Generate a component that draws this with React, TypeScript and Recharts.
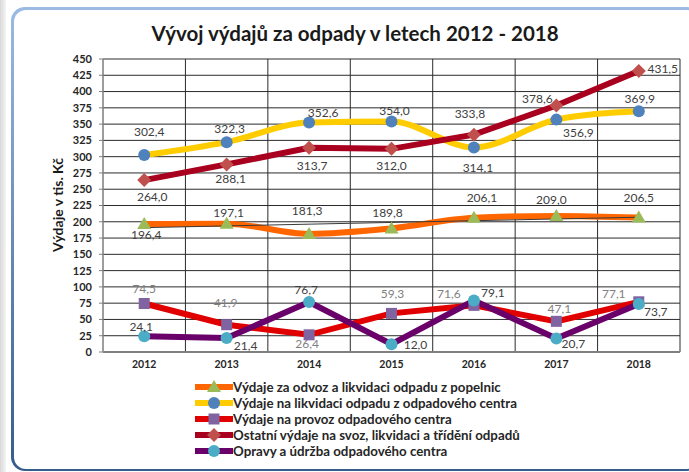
import type { FC, ReactElement } from 'react'
import { CartesianGrid, LabelList, Line, LineChart, XAxis, YAxis } from 'recharts'

const YEARS = [2012, 2013, 2014, 2015, 2016, 2017, 2018]
const YEAR_EDGES = [2011.5, 2012.5, 2013.5, 2014.5, 2015.5, 2016.5, 2017.5, 2018.5]
const Y_TICKS = [0, 25, 50, 75, 100, 125, 150, 175, 200, 225, 250, 275, 300, 325, 350, 375, 400, 425, 450]

const popelnice = [196.4, 197.1, 181.3, 189.8, 206.1, 209.0, 206.5]
const likvidaceCentrum = [302.4, 322.3, 352.6, 354.0, 314.1, 356.9, 369.9]
const provozCentra = [74.5, 41.9, 26.4, 59.3, 71.6, 47.1, 77.1]
const ostatni = [264.0, 288.1, 313.7, 312.0, 333.8, 378.6, 431.5]
const opravy = [24.1, 21.4, 76.7, 12.0, 79.1, 20.7, 73.7]
// thin trend line across the orange series, read at both ends
const trendPopelnice = [191, null, null, null, null, null, 207]

// label offsets (dx, dy) from each point
const popelniceLabels = [[2, 10], [2, -11], [-2, -23], [-4, -16], [8, -20], [-5, -16], [0, -20]]
const likvidaceLabels = [[5, -24], [3, -14], [14, -10], [3, -11], [4, 20], [22, 13], [1, -13]]
const provozLabels = [[0, -15], [-1, -22], [-2, 9], [1, -20], [-25, -12], [3, -13], [-25, -8]]
const ostatniLabels = [[8, 16], [4, 14], [3, 18], [0, 17], [-4, -21], [-19, -7], [24, -3]]
const opravyLabels = [[-3, -10], [19, 7], [-3, -13], [24, 0], [19, -8], [17, 5], [17, 7]]

const data = YEARS.map((year, i) => ({
  year,
  popelnice: popelnice[i],
  likvidace: likvidaceCentrum[i],
  provoz: provozCentra[i],
  ostatni: ostatni[i],
  opravy: opravy[i],
  trend: trendPopelnice[i],
}))

const FONT = 'Lato, "Open Sans", sans-serif'

type Shape = 'triangle' | 'circle' | 'square' | 'diamond'

const Marker = ({ shape, fill, cx, cy }: { shape: Shape; fill: string; cx: number; cy: number }) => {
  if (shape === 'triangle')
    return <polygon points={`${cx},${cy - 7} ${cx + 7},${cy + 5} ${cx - 7},${cy + 5}`} fill={fill} />
  if (shape === 'square') return <rect x={cx - 5.5} y={cy - 5.5} width={11} height={11} fill={fill} />
  if (shape === 'diamond')
    return <polygon points={`${cx},${cy - 7} ${cx + 7},${cy} ${cx},${cy + 7} ${cx - 7},${cy}`} fill={fill} />
  return <circle cx={cx} cy={cy} r={6} fill={fill} />
}

const makeDot = (shape: Shape, fill: string) => (props: any): ReactElement => {
  const { cx, cy, index } = props
  if (cx == null || cy == null) return <g key={`d-${index}`} />
  return (
    <g key={`d-${shape}-${index}`}>
      <Marker shape={shape} fill={fill} cx={cx} cy={cy} />
    </g>
  )
}

const makeLabel = (offsets: number[][], color: string) => (props: any) => {
  const { x, y, index, value } = props
  if (value == null) return null
  const [dx, dy] = offsets[index] ?? [0, -12]
  return (
    <text
      x={x + dx}
      y={y + dy}
      textAnchor="middle"
      dominantBaseline="central"
      fontFamily={FONT}
      fontSize={12}
      fill={color}
    >
      {Number(value).toFixed(1).replace('.', ',')}
    </text>
  )
}

const SERIES = [
  { key: 'popelnice', name: 'Výdaje za odvoz a likvidaci odpadu z popelnic', stroke: '#FF6600', shape: 'triangle' as Shape, marker: '#9BBB59', curve: 'monotone', labels: popelniceLabels, labelColor: '#404040' },
  { key: 'likvidace', name: 'Výdaje na likvidaci odpadu z odpadového centra', stroke: '#FFCC00', shape: 'circle' as Shape, marker: '#4F81BD', curve: 'monotone', labels: likvidaceLabels, labelColor: '#404040' },
  { key: 'provoz', name: 'Výdaje na provoz odpadového centra', stroke: '#E00000', shape: 'square' as Shape, marker: '#8064A2', curve: 'linear', labels: provozLabels, labelColor: '#7F7F7F' },
  { key: 'ostatni', name: 'Ostatní výdaje na svoz, likvidaci a třídění odpadů', stroke: '#A8001E', shape: 'diamond' as Shape, marker: '#C0504D', curve: 'linear', labels: ostatniLabels, labelColor: '#404040' },
  { key: 'opravy', name: 'Opravy a údržba odpadového centra', stroke: '#6A006A', shape: 'circle' as Shape, marker: '#4BACC6', curve: 'linear', labels: opravyLabels, labelColor: '#404040' },
]

const LegendBox: FC = () => (
  <div style={{ position: 'absolute', left: 195, top: 379, fontFamily: FONT, fontSize: 13.3, fontWeight: 700, color: '#262626' }}>
    {SERIES.map((s) => (
      <div key={s.key} style={{ display: 'flex', alignItems: 'center', height: 16 }}>
        <svg width={38} height={16}>
          <line x1={1} y1={8} x2={37} y2={8} stroke={s.stroke} strokeWidth={6} strokeLinecap="round" />
          <Marker shape={s.shape} fill={s.marker} cx={19} cy={8} />
        </svg>
        <span style={{ whiteSpace: 'nowrap' }}>{s.name}</span>
      </div>
    ))}
  </div>
)

export default function App() {
  return (
    <div style={{ position: 'fixed', left: 0, top: 0, width: 689, height: 472, background: '#fff', overflow: 'hidden' }}>
      <div style={{ position: 'absolute', left: 0, top: 0, width: 6, height: 472, background: 'linear-gradient(to right, #d9d9d9, #f4f4f4)' }} />
      <div
        style={{
          position: 'absolute',
          left: 11,
          top: 7,
          width: 690,
          height: 464,
          borderRadius: 14,
          background: 'linear-gradient(#9bbbe3, #365c8c)',
        }}
      >
        <div style={{ position: 'absolute', left: 2.5, top: 2.5, right: 2.5, bottom: 2.5, borderRadius: 12, background: '#fff' }} />
      </div>

      <div style={{ position: 'absolute', left: 0, top: 0 }}>
        <LineChart width={689} height={472} data={data} margin={{ top: 59, right: 9, bottom: 0, left: 63 }}>
          <CartesianGrid xAxisId="grid" stroke="#2b2b2b" strokeWidth={1} />
          <XAxis
            xAxisId="grid"
            dataKey="year"
            type="number"
            domain={[2011.5, 2018.5]}
            ticks={YEAR_EDGES}
            interval={0}
            height={0}
            hide
          />
          <XAxis
            xAxisId="main"
            dataKey="year"
            type="number"
            domain={[2011.5, 2018.5]}
            ticks={YEARS}
            interval={0}
            height={120}
            tickSize={0}
            tickMargin={9}
            axisLine={{ stroke: '#7f7f7f', strokeWidth: 2 }}
            tick={{ fontFamily: FONT, fontSize: 10.5, fontWeight: 700, fill: '#262626' }}
          />
          <YAxis
            domain={[0, 450]}
            ticks={Y_TICKS}
            interval={0}
            width={40}
            tickSize={4}
            tickMargin={7}
            axisLine={{ stroke: '#a6a6a6' }}
            tickLine={{ stroke: '#7f7f7f' }}
            tick={{ fontFamily: FONT, fontSize: 11, fontWeight: 700, fill: '#262626' }}
          />
          {SERIES.map((s) => (
            <Line
              key={s.key}
              xAxisId="main"
              dataKey={s.key}
              name={s.name}
              type={s.curve as 'monotone' | 'linear'}
              stroke={s.stroke}
              strokeWidth={6}
              dot={makeDot(s.shape, s.marker)}
              activeDot={false}
              isAnimationActive={false}
            >
              <LabelList dataKey={s.key} content={makeLabel(s.labels, s.labelColor)} />
            </Line>
          ))}
          <Line
            xAxisId="main"
            dataKey="trend"
            type="linear"
            stroke="#3a3a3a"
            strokeWidth={1}
            dot={false}
            activeDot={false}
            connectNulls
            isAnimationActive={false}
          />
        </LineChart>
      </div>

      <div
        style={{
          position: 'absolute',
          left: 0,
          width: 710,
          top: 21,
          textAlign: 'center',
          fontFamily: FONT,
          fontWeight: 700,
          fontSize: 20.5,
          color: '#1a1a1a',
          whiteSpace: 'nowrap',
        }}
      >
        Vývoj výdajů za odpady v letech 2012 - 2018
      </div>
      <div
        style={{
          position: 'absolute',
          left: 57,
          top: 205,
          transform: 'translate(-50%, -50%) rotate(-90deg)',
          fontFamily: FONT,
          fontWeight: 700,
          fontSize: 14,
          color: '#1a1a1a',
          whiteSpace: 'nowrap',
        }}
      >
        Výdaje v tis. Kč
      </div>
      <LegendBox />
    </div>
  )
}
